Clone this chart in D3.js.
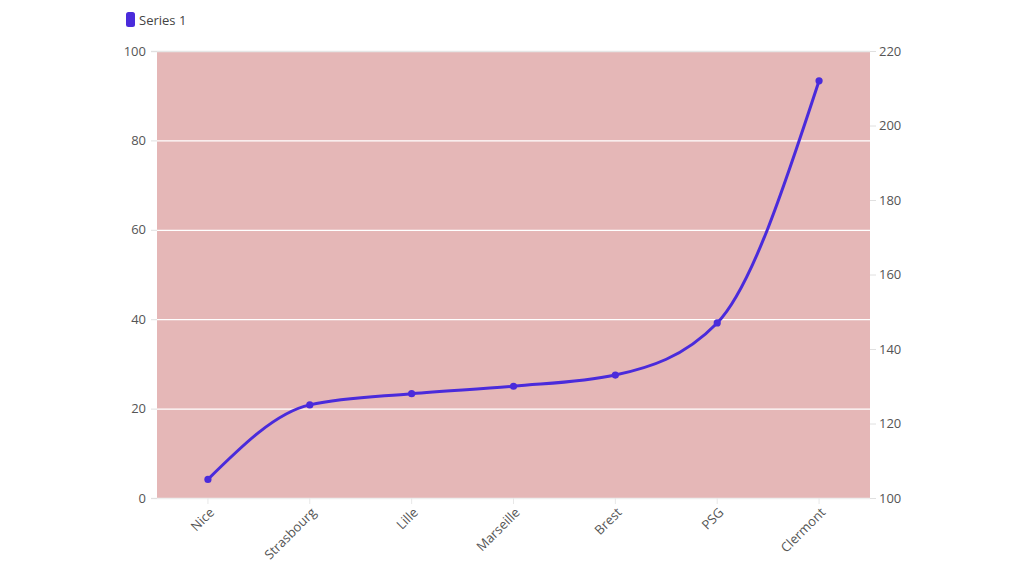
<!DOCTYPE html>
<html><head><meta charset="utf-8">
<script src="https://cdn.jsdelivr.net/npm/d3@7"></script>
<style>body{margin:0;background:#fff;} text{font-family:"Source Sans Pro","Open Sans",Lato,sans-serif;}</style>
</head><body><svg id="c" width="1024" height="576"></svg>
<script>
const categories = ["Nice","Strasbourg","Lille","Marseille","Brest","PSG","Clermont"];
const values = [105,125,128,130,133,147,212];
const leftTicks = [0,20,40,60,80,100];
const rightTicks = [100,120,140,160,180,200,220];
const seriesName = "Series 1";

const svg = d3.select("#c");
const L=157,R=870,T=51,B=498;
const color="#4a2bdb";
const x = d3.scaleBand().domain(categories).range([L,R]);
const yL = d3.scaleLinear().domain([0,100]).range([B,T]);
const yR = d3.scaleLinear().domain([100,220]).range([B,T]);

svg.append("rect").attr("x",L).attr("y",T).attr("width",R-L).attr("height",B-T).attr("fill","#e5b7b7");

// grid
svg.append("g").selectAll("line").data(leftTicks).join("line")
 .attr("x1",L-6).attr("x2",R).attr("y1",d=>yL(d)+0.5).attr("y2",d=>yL(d)+0.5)
 .attr("stroke",d=>d===0?"#eeeeee":(d===100?"#e6e6e6":"#ffffff")).attr("stroke-width",1.3);
svg.append("g").selectAll("line").data(leftTicks).join("line")
 .attr("x1",L-6).attr("x2",L).attr("y1",d=>yL(d)+0.5).attr("y2",d=>yL(d)+0.5).attr("stroke","#e0e0e0");

const axL = d3.axisLeft(yL).tickValues(leftTicks).tickSize(0).tickPadding(11);
const gL = svg.append("g").attr("transform",`translate(${L},0)`).call(axL);
gL.select(".domain").remove();
gL.selectAll("text").attr("fill","#555").style("font-size","13px");

const axR = d3.axisRight(yR).tickValues(rightTicks).tickSize(6).tickPadding(3);
const gR = svg.append("g").attr("transform",`translate(${R},0)`).call(axR);
gR.select(".domain").remove();
gR.selectAll("line").attr("stroke","#e0e0e0");
gR.selectAll("text").attr("fill","#555").style("font-size","13px");

const axB = d3.axisBottom(x).tickSize(6).tickPadding(4);
const gB = svg.append("g").attr("transform",`translate(0,${B})`).call(axB);
gB.select(".domain").remove();
gB.selectAll("line").attr("stroke","#e8e8e8");
gB.selectAll("text").attr("fill","#555").style("font-size","13px")
 .attr("text-anchor","end").attr("x",null).attr("y",null).attr("dy","0.35em")
 .attr("transform","translate(4,12) rotate(-45)");

const line = d3.line().x(d=>x(d.c)+x.bandwidth()/2).y(d=>yR(d.v)).curve(d3.curveMonotoneX);
const data = categories.map((c,i)=>({c,v:values[i]}));
svg.append("path").datum(data).attr("d",line).attr("fill","none").attr("stroke",color).attr("stroke-width",3);
svg.append("g").selectAll("circle").data(data).join("circle")
 .attr("cx",d=>x(d.c)+x.bandwidth()/2).attr("cy",d=>yR(d.v)).attr("r",3.6).attr("fill",color);

// legend
svg.append("rect").attr("x",126).attr("y",12).attr("width",9).attr("height",15).attr("rx",2.5).attr("fill",color);
svg.append("text").attr("x",139).attr("y",20).attr("dy","0.35em").attr("fill","#444").style("font-size","13px").text(seriesName);
</script></body></html>
